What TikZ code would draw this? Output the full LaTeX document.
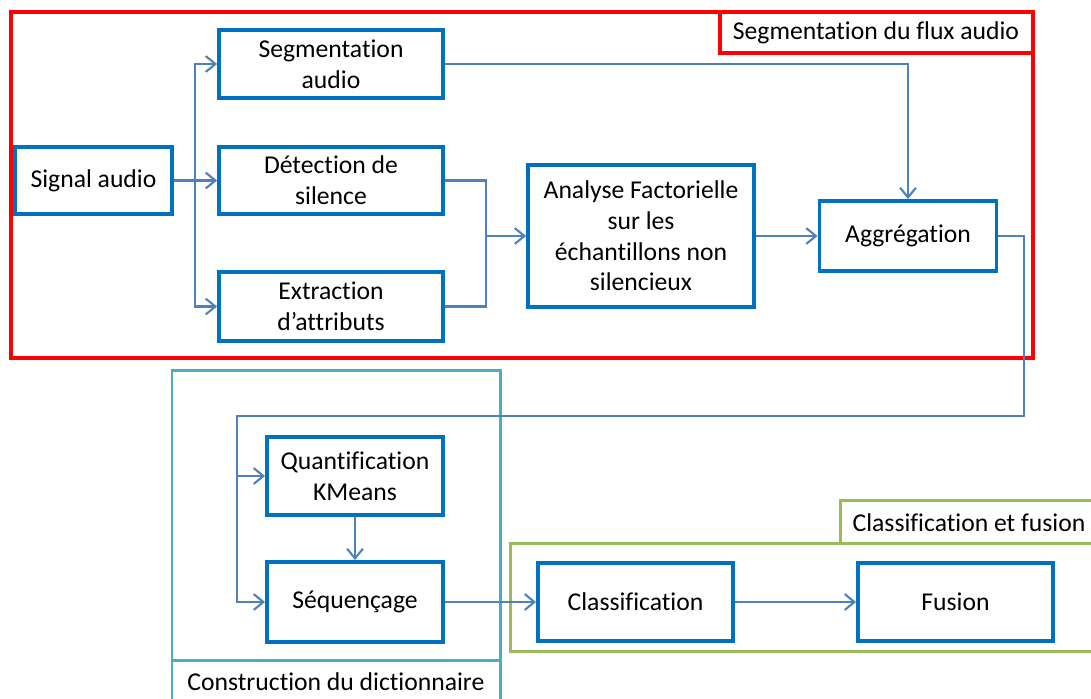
\documentclass[tikz,border=0pt]{standalone}
\usepackage{fontspec}
\setmainfont{Carlito}[Ligatures=CommonOff]
\usepackage{xcolor}
\usetikzlibrary{arrows.meta}
\definecolor{boxblue}{HTML}{0070C0}
\definecolor{lineblue}{HTML}{4F81BD}
\definecolor{dictcyan}{HTML}{4BACC6}
\definecolor{classgreen}{HTML}{9BBB59}
\begin{document}
\begin{tikzpicture}[x=0.02cm,y=-0.02cm]
 	\tikzstyle{every node}+=[inner sep=0pt]
 	\tikzstyle{bloc}=[draw=boxblue, line width=2.2pt, fill=white, align=center, font=\fontsize{14.6}{17.5}\selectfont]
 	\tikzstyle{lien}=[draw=lineblue, line width=1.2pt]
 	\tikzstyle{fleche}=[lien, -{Straight Barb[length=5.5pt,width=9pt]}]
 	\tikzstyle{titre}=[font=\fontsize{14.6}{17.5}\selectfont]
 	\clip (0,0) rectangle (1091,698);
 	\fill [white] (0,0) rectangle (1091,698);
 	\draw [red, line width=1.9pt] (11,12) rectangle (1033,358);
 	\draw [red, line width=1.9pt] (720,12) rectangle (1033,53);
 	\draw (876,33) node [titre] (lblseg) {Segmentation du flux audio};
 	\draw [dictcyan, line width=1.7pt] (172,370) rectangle (500,720);
 	\draw [dictcyan, line width=1.7pt] (172,660) -- (500,660);
 	\draw (336,682) node [titre] (lbldict) {Construction du dictionnaire};
 	\draw [classgreen, line width=1.7pt] (510,543) rectangle (1110,651);
 	\draw [classgreen, line width=1.7pt] (840,543) -- (840,500) -- (1110,500);
 	\draw (969,523) node [titre] (lblclass) {Classification et fusion};
 	\draw (93.5,180.5) node [bloc, minimum width=157*0.02cm, minimum height=67*0.02cm] (sig) {Signal audio};
 	\draw (331,64) node [bloc, minimum width=224*0.02cm, minimum height=68*0.02cm] (seg) {Segmentation\\audio};
 	\draw (331,180.5) node [bloc, minimum width=224*0.02cm, minimum height=67*0.02cm] (det) {Détection de\\silence};
 	\draw (331,306.5) node [bloc, minimum width=224*0.02cm, minimum height=69*0.02cm] (ext) {Extraction\\d’attributs};
 	\draw (641,236) node [bloc, minimum width=226*0.02cm, minimum height=142*0.02cm] (afa) {Analyse Factorielle\\sur les\\échantillons non\\silencieux};
 	\draw (908,236) node [bloc, minimum width=177*0.02cm, minimum height=70*0.02cm] (agg) {Aggrégation};
 	\draw (355,476) node [bloc, minimum width=176*0.02cm, minimum height=78*0.02cm] (qua) {Quantification\\KMeans};
 	\draw (355,602) node [bloc, minimum width=176*0.02cm, minimum height=80*0.02cm] (seq) {Séquençage};
 	\draw (635.5,602) node [bloc, minimum width=195*0.02cm, minimum height=78*0.02cm] (cla) {Classification};
 	\draw (955.5,602) node [bloc, minimum width=195*0.02cm, minimum height=78*0.02cm] (fus) {Fusion};
 	\coordinate (br) at (195,180.5);
 	\coordinate (mg) at (486,236);
 	\coordinate (tr) at (1024,416);
 	\coordinate (tl) at (237,416);
 	\draw [lien] (sig.east) -- (br);
 	\draw [fleche] (br) |- (seg.west);
 	\draw [fleche] (br) -- (det.west);
 	\draw [fleche] (br) |- (ext.west);
 	\draw [fleche] (seg.east) -| (agg.north);
 	\draw [lien] (det.east) -| (mg);
 	\draw [lien] (ext.east) -| (mg);
 	\draw [fleche] (mg) -- (afa.west);
 	\draw [fleche] (afa.east) -- (agg.west);
 	\draw [fleche] (agg.east) -| (tr) -- (tl) |- (seq.west);
 	\draw [fleche] (tl |- qua.west) -- (qua.west);
 	\draw [fleche] (qua.south) -- (seq.north);
 	\draw [fleche] (seq.east) -- (cla.west);
 	\draw [fleche] (cla.east) -- (fus.west);
\end{tikzpicture}
\end{document}
